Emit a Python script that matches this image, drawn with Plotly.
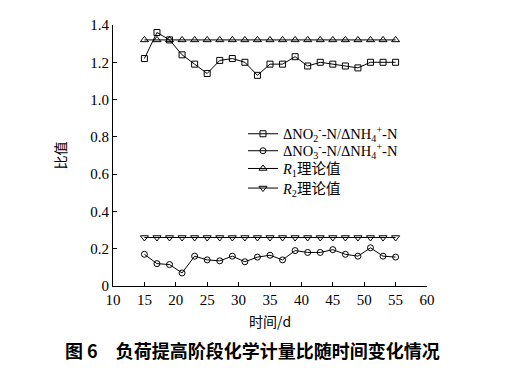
import plotly.graph_objects as go

days = [15, 17, 19, 21, 23, 25, 27, 29, 31, 33, 35, 37, 39, 41, 43, 45, 47, 49, 51, 53, 55]
no2_nh4 = [1.22, 1.36, 1.32, 1.24, 1.19, 1.14, 1.21, 1.22, 1.20, 1.13, 1.19, 1.19, 1.23, 1.18, 1.20, 1.19, 1.18, 1.17, 1.20, 1.20, 1.20]
no3_nh4 = [0.17, 0.12, 0.115, 0.07, 0.16, 0.14, 0.135, 0.16, 0.13, 0.155, 0.165, 0.14, 0.19, 0.18, 0.18, 0.195, 0.17, 0.16, 0.205, 0.16, 0.155]
r1_theory = [1.32] * len(days)
r2_theory = [0.26] * len(days)

y_ticks = [0, 0.2, 0.4, 0.6, 0.8, 1.0, 1.2, 1.4]
y_tick_labels = ["0", "0.2", "0.4", "0.6", "0.8", "1.0", "1.2", "1.4"]
x_ticks = [10, 15, 20, 25, 30, 35, 40, 45, 50, 55, 60]

names = [
    "ΔNO<sub>2</sub><sup>-</sup>-N/ΔNH<sub>4</sub><sup>+</sup>-N",
    "ΔNO<sub>3</sub><sup>-</sup>-N/ΔNH<sub>4</sub><sup>+</sup>-N",
    "<i>R</i><sub>1</sub>理论值",
    "<i>R</i><sub>2</sub>理论值",
]
series = [no2_nh4, no3_nh4, r1_theory, r2_theory]
symbols = ["square-open", "circle-open", "triangle-up-open", "triangle-down-open"]
sizes = [6, 6, 7, 7]
legend_ids = ["legend", "legend2", "legend3", "legend4"]
legend_rows = [0.583, 0.518, 0.45, 0.375]

serif = "Liberation Serif, Noto Sans CJK SC"

fig = go.Figure()
for name, ys, sym, sz, lid in zip(names, series, symbols, sizes, legend_ids):
    fig.add_trace(go.Scatter(
        x=days, y=ys, name=name, mode="lines+markers", legend=lid,
        line=dict(color="black", width=1),
        marker=dict(symbol=sym, size=sz, color="black", line=dict(color="black", width=1)),
    ))

legend_layout = {}
for lid, ly in zip(legend_ids, legend_rows):
    legend_layout[lid] = dict(x=0.414, y=ly, xanchor="left", yanchor="middle",
                              bgcolor="rgba(0,0,0,0)", font=dict(family=serif, size=14.5),
                              itemwidth=30)

fig.update_layout(
    width=507, height=375,
    margin=dict(l=105, r=88, t=9, b=97),
    paper_bgcolor="white", plot_bgcolor="white",
    font=dict(family=serif, size=15, color="black"),
    showlegend=True,
    xaxis=dict(range=[10, 60], tickmode="array", tickvals=x_ticks,
               showgrid=False, zeroline=False, showline=True, linecolor="black", linewidth=1,
               ticks="inside", ticklen=4, tickcolor="black",
               title=dict(text="时间/d", font=dict(family="Noto Sans CJK SC", size=14), standoff=10)),
    yaxis=dict(range=[0, 1.4], tickmode="array", tickvals=y_ticks, ticktext=y_tick_labels,
               showgrid=False, zeroline=False, showline=True, linecolor="black", linewidth=1,
               ticks="inside", ticklen=4, tickcolor="black",
               title=dict(text="比值", font=dict(family="Noto Sans CJK SC", size=14), standoff=20)),
    **legend_layout,
)
fig.add_annotation(text="<b>图 6　负荷提高阶段化学计量比随时间变化情况</b>",
                   xref="paper", yref="paper", x=0.443, y=-0.245, xanchor="center", yanchor="middle",
                   showarrow=False, font=dict(family="Noto Sans CJK SC", size=18, color="black"))
fig.write_html("out.html")
